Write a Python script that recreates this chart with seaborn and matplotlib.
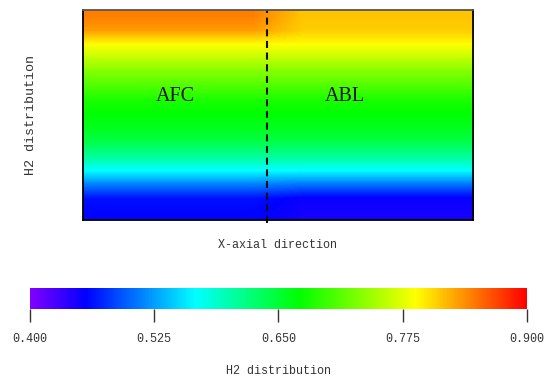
import numpy as np
import matplotlib
matplotlib.use('Agg')
import matplotlib.pyplot as plt
import seaborn as sns
from matplotlib.colors import LinearSegmentedColormap

# ── data (top row first) ──────────────────────────────────────────────
afc_profile = [0.844, 0.832, 0.789, 0.760, 0.730, 0.707, 0.683, 0.670,
               0.659, 0.640, 0.608, 0.566, 0.510, 0.462, 0.458]
abl_profile = [0.813, 0.810, 0.789, 0.760, 0.730, 0.707, 0.683, 0.670,
               0.659, 0.640, 0.608, 0.566, 0.505, 0.452, 0.448]
n_afc_cols = 4
n_abl_cols = 4
interface_x = 0.472

cbar_ticks = [0.400, 0.525, 0.650, 0.775, 0.900]
vmin, vmax = 0.4, 0.9

# colour stops of the scale bar
cmap_stops = [(0.0, '#8000ff'), (0.111, '#0000ff'), (0.332, '#00ffff'),
              (0.543, '#00ff00'), (0.778, '#ffff00'), (1.0, '#ff0000')]

# ── build field ───────────────────────────────────────────────────────
field = np.column_stack([afc_profile] * n_afc_cols + [abl_profile] * n_abl_cols)
cmap = LinearSegmentedColormap.from_list('h2', cmap_stops)

sns.set_theme(style='white')
plt.rcParams['font.family'] = ['Liberation Mono', 'DejaVu Sans Mono']
text_color = '#333333'

fig = plt.figure(figsize=(5.47, 3.81), dpi=100)
ax = fig.add_axes([0.1517, 0.4226, 0.713, 0.5512])

im = ax.imshow(field, cmap=cmap, vmin=vmin, vmax=vmax, aspect='auto',
               interpolation='bilinear', extent=(0, 1, 0, 1))
ax.set_xlim(0, 1)
ax.set_ylim(0, 1)
ax.set_xticks([])
ax.set_yticks([])
for s in ax.spines.values():
    s.set_color('black')
    s.set_linewidth(1.3)
    s.set_visible(True)
ax.spines['top'].set_color('#555555')

ax.axvline(interface_x, ymin=-0.015, ymax=1, color='#111111', lw=1.5,
           dashes=(3.4, 2.2), clip_on=False)

ax.text(0.236, 0.586, 'AFC', transform=ax.transAxes, ha='center', va='center',
        fontsize=14.5, family='Liberation Serif', color='#111111')
ax.text(0.672, 0.586, 'ABL', transform=ax.transAxes, ha='center', va='center',
        fontsize=14.5, family='Liberation Serif', color='#111111')

ax.set_xlabel('X-axial direction', fontsize=8.5, color=text_color, labelpad=14)
ax.set_ylabel('H2 distribution', fontsize=9.6, color=text_color, labelpad=33)

# ── colour bar ────────────────────────────────────────────────────────
cax = fig.add_axes([0.0548, 0.189, 0.9086, 0.055])
cb = fig.colorbar(im, cax=cax, orientation='horizontal', ticks=cbar_ticks,
                  format='%.3f')
cb.outline.set_visible(False)
cax.tick_params(axis='x', length=9, width=1, color='#333333', pad=8,
                labelsize=8.5, labelcolor=text_color, bottom=True)
cb.set_label('H2 distribution', fontsize=8.5, color=text_color, labelpad=15)

fig.savefig('out.png', dpi=100)
